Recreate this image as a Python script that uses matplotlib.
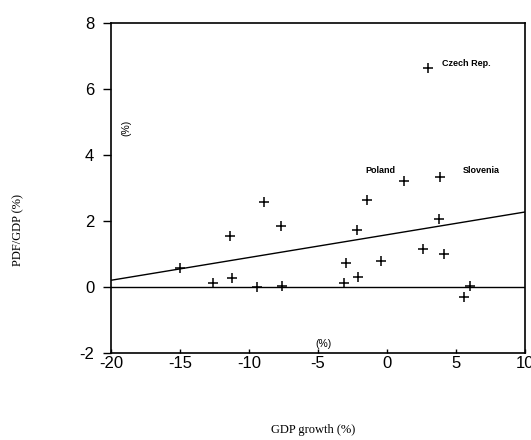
import matplotlib
matplotlib.use("Agg")
import matplotlib.pyplot as plt

gdp_growth = [-15.0, -12.6, -11.4, -11.25, -9.45, -8.9, -7.7, -7.6, -3.1, -3.0,
              -2.15, -2.1, -1.45, -0.45, 1.2, 2.6, 3.8, 3.75, 4.15, 5.55, 6.0, 2.95]
pdf_gdp = [0.58, 0.13, 1.55, 0.26, 0.01, 2.58, 1.85, 0.03, 0.11, 0.72,
           1.73, 0.29, 2.62, 0.77, 3.21, 1.14, 3.32, 2.06, 0.99, -0.31, 0.03, 6.64]

fit_x = [-20, 10]
fit_y = [0.2, 2.27]

annotations = [("Czech Rep.", 4.0, 6.78), ("Poland", -1.55, 3.52), ("Slovenia", 5.45, 3.52)]

x_ticks = [-20, -15, -10, -5, 0, 5, 10]
y_ticks = [-2, 0, 2, 4, 6, 8]

fig = plt.figure(figsize=(5.31, 4.40), dpi=100)
ax = fig.add_axes([0.209, 0.198, 0.78, 0.75])

ax.axhline(0, color="black", lw=1.0)
ax.plot(fit_x, fit_y, color="black", lw=1.0)
ax.plot(gdp_growth, pdf_gdp, linestyle="none", marker="+", markersize=7,
        markeredgewidth=1.1, color="black")

for name, x, y in annotations:
    ax.text(x, y, name, fontsize=6.5, fontweight="bold", family="Liberation Sans",
            ha="left", va="center")

ax.set_xlim(-20, 10)
ax.set_ylim(-2, 8)
ax.set_xticks(x_ticks)
ax.set_yticks(y_ticks)
ax.set_xticklabels([str(t) for t in x_ticks], family="Liberation Sans", fontsize=12)
ax.set_yticklabels([str(t) for t in y_ticks], family="Liberation Sans", fontsize=12)
ax.tick_params(axis="x", direction="in", length=3, width=1, pad=2)
ax.tick_params(axis="y", direction="out", length=6, width=1, pad=6)
for sp in ax.spines.values():
    sp.set_linewidth(1.2)

ax.text(-4.6, -1.72, "(%)", fontsize=7.5, family="Liberation Sans", ha="center", va="center")
fig.text(0.238, 0.71, "(%)", fontsize=7.5, family="Liberation Sans", rotation=90,
         ha="center", va="center")

fig.text(0.034, 0.478, "PDF/GDP (%)", fontsize=9, family="Liberation Serif",
         rotation=90, ha="center", va="center")
fig.text(0.59, 0.023, "GDP growth (%)", fontsize=9, family="Liberation Serif",
         ha="center", va="center")

fig.savefig("out.png", dpi=100)
